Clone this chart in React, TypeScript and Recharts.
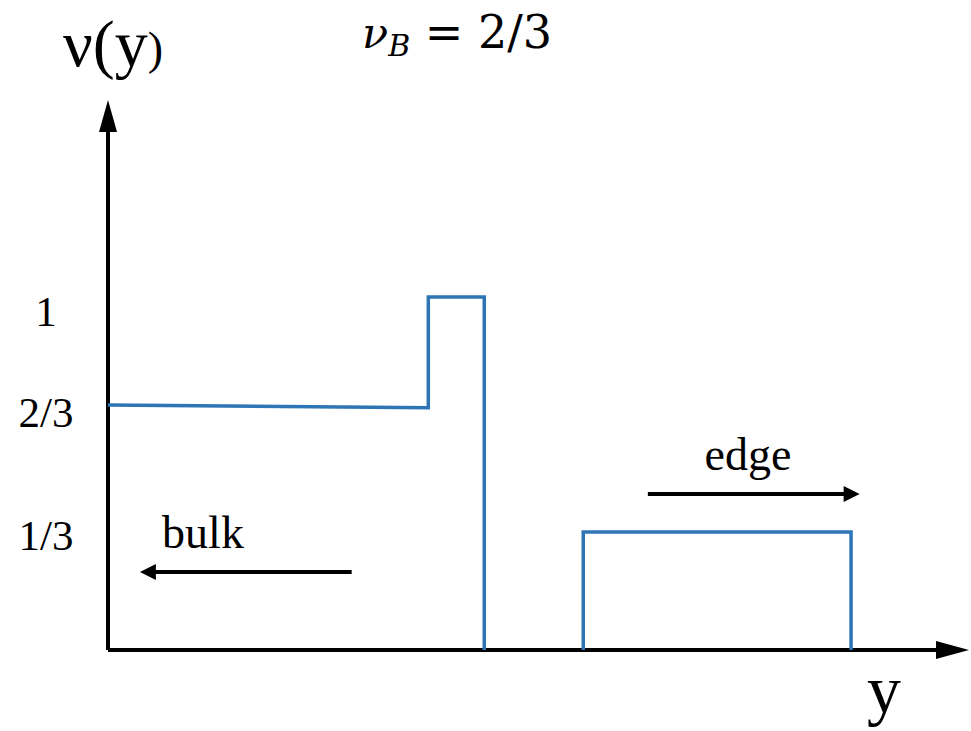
import { LineChart, Line, XAxis, YAxis, ReferenceLine, Customized } from "recharts";

// filling-factor profile nu(y), bulk side then the edge strip
const bulkStep = [
  { y: 0, nu: 0.694 },
  { y: 3.72, nu: 0.686 },
  { y: 3.72, nu: 1.0 },
  { y: 4.37, nu: 1.0 },
  { y: 4.37, nu: 0 },
];
const edgeStep = [
  { y: 5.52, nu: 0 },
  { y: 5.52, nu: 0.334 },
  { y: 8.63, nu: 0.334 },
  { y: 8.63, nu: 0 },
];

const yTicks = [0.334, 0.686, 1.0];
const yTickLabels = ["1/3", "2/3", "1"];

const bulkArrow = [
  { y: 2.83, nu: 0.221 },
  { y: 0.37, nu: 0.221 },
];
const edgeArrow = [
  { y: 6.27, nu: 0.442 },
  { y: 8.73, nu: 0.442 },
];

const BLUE = "#2E75B6";
const SERIF = "Liberation Serif";

const arrowShape = (head: number, half: number, w: number) => (p: any) => {
  const { x1, y1, x2, y2 } = p;
  const dx = x2 - x1;
  const dy = y2 - y1;
  const len = Math.hypot(dx, dy) || 1;
  const ux = dx / len;
  const uy = dy / len;
  const bx = x2 - ux * head;
  const by = y2 - uy * head;
  const px = -uy;
  const py = ux;
  return (
    <g>
      <line x1={x1} y1={y1} x2={bx + ux * 2} y2={by + uy * 2} stroke="#000" strokeWidth={w} />
      <polygon
        points={`${x2},${y2} ${bx + px * half},${by + py * half} ${bx - px * half},${by - py * half}`}
        fill="#000"
      />
    </g>
  );
};

const tickNudge: Record<string, number> = { "1": 15, "2/3": 5, "1/3": 3 };

function YTick(props: any) {
  const { x, y, payload, index } = props;
  const label = yTickLabels[index] ?? String(payload.value);
  return (
    <text
      x={x - 54}
      y={y + (tickNudge[label] ?? 0)}
      textAnchor="middle"
      dominantBaseline="central"
      fontSize={43}
      fill="#000"
      style={{ fontFamily: SERIF }}
    >
      {label}
    </text>
  );
}

function Labels() {
  return (
    <g fill="#000">
      <text x={63} y={66} fontSize={66} style={{ fontFamily: SERIF }}>
        ν(y<tspan fontSize={46} dy={-2}>)</tspan>
      </text>
      <text x={362} y={48} fontSize={46} style={{ fontFamily: "DejaVu Serif" }}>
        <tspan fontStyle="italic" fontSize={43}>ν</tspan>
        <tspan fontStyle="italic" fontSize={30} dy={8}>B</tspan>
        <tspan dy={-8}> = 2/3</tspan>
      </text>
      <text x={203} y={548} textAnchor="middle" fontSize={46} style={{ fontFamily: SERIF }}>
        bulk
      </text>
      <text x={748} y={470} textAnchor="middle" fontSize={46} style={{ fontFamily: SERIF }}>
        edge
      </text>
      <text x={884} y={713} textAnchor="middle" fontSize={68} style={{ fontFamily: SERIF }}>
        y
      </text>
    </g>
  );
}

export default function App() {
  return (
    <div style={{ position: "absolute", left: 0, top: 0, width: 971, height: 731, background: "#fff" }}>
      <LineChart width={971} height={731} margin={{ top: 100, right: 2, bottom: 81, left: 48 }}>
        <XAxis dataKey="y" type="number" domain={[0, 10]} hide allowDataOverflow />
        <YAxis
          type="number"
          domain={[0, 1.558]}
          ticks={yTicks}
          width={60}
          axisLine={false}
          tickLine={false}
          tick={<YTick />}
          allowDataOverflow
        />
        <ReferenceLine
          segment={[{ x: 0, y: 0 }, { x: 0, y: 1.558 }]}
          ifOverflow="visible"
          shape={arrowShape(32, 9, 4)}
        />
        <ReferenceLine
          segment={[{ x: 0, y: 0 }, { x: 10, y: 0 }]}
          ifOverflow="visible"
          shape={arrowShape(33, 9, 4)}
        />
        <ReferenceLine
          segment={[
            { x: bulkArrow[0].y, y: bulkArrow[0].nu },
            { x: bulkArrow[1].y, y: bulkArrow[1].nu },
          ]}
          ifOverflow="visible"
          shape={arrowShape(16, 8, 4)}
        />
        <ReferenceLine
          segment={[
            { x: edgeArrow[0].y, y: edgeArrow[0].nu },
            { x: edgeArrow[1].y, y: edgeArrow[1].nu },
          ]}
          ifOverflow="visible"
          shape={arrowShape(16, 8, 4)}
        />
        <Line
          data={bulkStep}
          dataKey="nu"
          type="linear"
          stroke={BLUE}
          strokeWidth={3.5}
          dot={false}
          activeDot={false}
          isAnimationActive={false}
        />
        <Line
          data={edgeStep}
          dataKey="nu"
          type="linear"
          stroke={BLUE}
          strokeWidth={3.5}
          dot={false}
          activeDot={false}
          isAnimationActive={false}
        />
        <Customized component={<Labels />} />
      </LineChart>
    </div>
  );
}
